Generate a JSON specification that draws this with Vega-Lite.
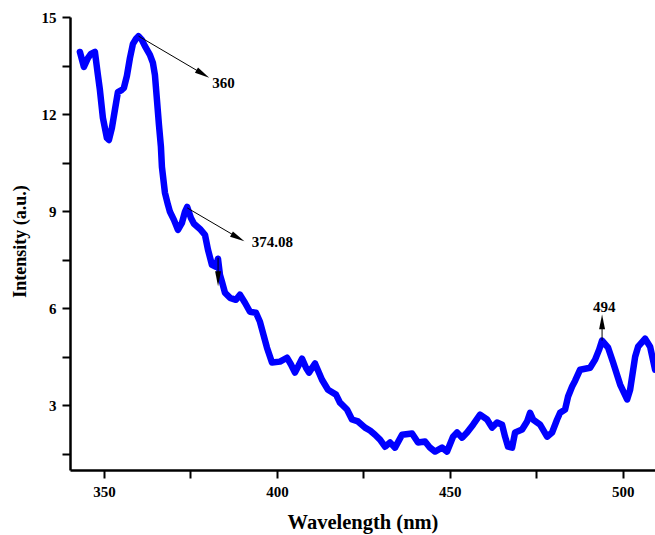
{
  "$schema": "https://vega.github.io/schema/vega-lite/v6.json",
  "autosize": {"type": "none"},
  "padding": {"left": 70, "top": 17, "right": 0, "bottom": 65},
  "width": 585,
  "height": 453,
  "background": "white",
  "config": {"view": {"stroke": null}, "font": "Liberation Serif"},
  "datasets": {
    "spectrum": [
      {"wavelength": 343.06, "intensity": 13.92},
      {"wavelength": 344.22, "intensity": 13.46},
      {"wavelength": 345.37, "intensity": 13.73},
      {"wavelength": 346.24, "intensity": 13.86},
      {"wavelength": 347.40, "intensity": 13.92},
      {"wavelength": 348.26, "intensity": 13.21},
      {"wavelength": 348.84, "intensity": 12.75},
      {"wavelength": 349.71, "intensity": 11.88},
      {"wavelength": 350.87, "intensity": 11.26},
      {"wavelength": 351.45, "intensity": 11.20},
      {"wavelength": 352.31, "intensity": 11.57},
      {"wavelength": 353.18, "intensity": 12.13},
      {"wavelength": 354.05, "intensity": 12.68},
      {"wavelength": 355.21, "intensity": 12.75},
      {"wavelength": 355.78, "intensity": 12.81},
      {"wavelength": 356.65, "intensity": 13.18},
      {"wavelength": 357.52, "intensity": 13.73},
      {"wavelength": 358.39, "intensity": 14.17},
      {"wavelength": 359.25, "intensity": 14.32},
      {"wavelength": 360.00, "intensity": 14.41},
      {"wavelength": 360.99, "intensity": 14.29},
      {"wavelength": 361.86, "intensity": 14.10},
      {"wavelength": 363.30, "intensity": 13.83},
      {"wavelength": 364.17, "intensity": 13.58},
      {"wavelength": 364.75, "intensity": 13.21},
      {"wavelength": 365.33, "intensity": 12.44},
      {"wavelength": 365.91, "intensity": 11.67},
      {"wavelength": 366.48, "intensity": 10.99},
      {"wavelength": 366.77, "intensity": 10.37},
      {"wavelength": 367.64, "intensity": 9.57},
      {"wavelength": 368.51, "intensity": 9.20},
      {"wavelength": 369.09, "intensity": 8.98},
      {"wavelength": 370.24, "intensity": 8.73},
      {"wavelength": 371.40, "intensity": 8.42},
      {"wavelength": 372.56, "intensity": 8.64},
      {"wavelength": 373.42, "intensity": 8.98},
      {"wavelength": 374.08, "intensity": 9.13},
      {"wavelength": 375.16, "intensity": 8.79},
      {"wavelength": 376.03, "intensity": 8.61},
      {"wavelength": 377.76, "intensity": 8.45},
      {"wavelength": 379.21, "intensity": 8.27},
      {"wavelength": 380.08, "intensity": 7.81},
      {"wavelength": 381.23, "intensity": 7.34},
      {"wavelength": 382.39, "intensity": 7.28},
      {"wavelength": 382.97, "intensity": 7.53},
      {"wavelength": 383.55, "intensity": 7.03},
      {"wavelength": 384.12, "intensity": 6.82},
      {"wavelength": 384.99, "intensity": 6.48},
      {"wavelength": 386.44, "intensity": 6.32},
      {"wavelength": 388.17, "intensity": 6.26},
      {"wavelength": 389.33, "intensity": 6.42},
      {"wavelength": 390.77, "intensity": 6.17},
      {"wavelength": 392.22, "intensity": 5.89},
      {"wavelength": 393.96, "intensity": 5.86},
      {"wavelength": 395.11, "intensity": 5.58},
      {"wavelength": 396.27, "intensity": 5.12},
      {"wavelength": 397.14, "intensity": 4.78},
      {"wavelength": 398.58, "intensity": 4.32},
      {"wavelength": 400.90, "intensity": 4.35},
      {"wavelength": 402.92, "intensity": 4.47},
      {"wavelength": 404.08, "intensity": 4.26},
      {"wavelength": 405.23, "intensity": 4.01},
      {"wavelength": 407.26, "intensity": 4.44},
      {"wavelength": 408.42, "intensity": 4.16},
      {"wavelength": 409.28, "intensity": 4.01},
      {"wavelength": 411.02, "intensity": 4.29},
      {"wavelength": 413.04, "intensity": 3.79},
      {"wavelength": 414.78, "intensity": 3.48},
      {"wavelength": 417.09, "intensity": 3.33},
      {"wavelength": 418.25, "intensity": 3.08},
      {"wavelength": 420.27, "intensity": 2.87},
      {"wavelength": 421.72, "intensity": 2.56},
      {"wavelength": 423.45, "intensity": 2.50},
      {"wavelength": 425.48, "intensity": 2.31},
      {"wavelength": 426.92, "intensity": 2.22},
      {"wavelength": 428.37, "intensity": 2.09},
      {"wavelength": 429.81, "intensity": 1.94},
      {"wavelength": 431.26, "intensity": 1.72},
      {"wavelength": 432.71, "intensity": 1.85},
      {"wavelength": 434.15, "intensity": 1.69},
      {"wavelength": 436.18, "intensity": 2.09},
      {"wavelength": 439.07, "intensity": 2.13},
      {"wavelength": 440.80, "intensity": 1.85},
      {"wavelength": 442.83, "intensity": 1.88},
      {"wavelength": 444.27, "intensity": 1.69},
      {"wavelength": 445.72, "intensity": 1.57},
      {"wavelength": 447.74, "intensity": 1.69},
      {"wavelength": 449.19, "intensity": 1.57},
      {"wavelength": 450.92, "intensity": 2.03},
      {"wavelength": 452.08, "intensity": 2.16},
      {"wavelength": 453.53, "intensity": 2.00},
      {"wavelength": 454.97, "intensity": 2.16},
      {"wavelength": 456.71, "intensity": 2.40},
      {"wavelength": 458.73, "intensity": 2.71},
      {"wavelength": 460.76, "intensity": 2.56},
      {"wavelength": 462.20, "intensity": 2.31},
      {"wavelength": 463.65, "intensity": 2.47},
      {"wavelength": 465.10, "intensity": 2.40},
      {"wavelength": 465.96, "intensity": 2.03},
      {"wavelength": 466.83, "intensity": 1.72},
      {"wavelength": 467.99, "intensity": 1.69},
      {"wavelength": 468.86, "intensity": 2.16},
      {"wavelength": 470.88, "intensity": 2.25},
      {"wavelength": 472.32, "intensity": 2.50},
      {"wavelength": 473.19, "intensity": 2.77},
      {"wavelength": 474.06, "intensity": 2.56},
      {"wavelength": 476.08, "intensity": 2.40},
      {"wavelength": 478.11, "intensity": 2.03},
      {"wavelength": 479.55, "intensity": 2.16},
      {"wavelength": 481.00, "intensity": 2.56},
      {"wavelength": 481.87, "intensity": 2.77},
      {"wavelength": 483.31, "intensity": 2.87},
      {"wavelength": 484.18, "intensity": 3.27},
      {"wavelength": 485.34, "intensity": 3.58},
      {"wavelength": 486.21, "intensity": 3.76},
      {"wavelength": 487.65, "intensity": 4.10},
      {"wavelength": 490.54, "intensity": 4.16},
      {"wavelength": 491.99, "intensity": 4.41},
      {"wavelength": 493.15, "intensity": 4.72},
      {"wavelength": 494.00, "intensity": 5.00},
      {"wavelength": 495.75, "intensity": 4.78},
      {"wavelength": 497.19, "intensity": 4.32},
      {"wavelength": 499.22, "intensity": 3.64},
      {"wavelength": 501.24, "intensity": 3.18},
      {"wavelength": 502.11, "intensity": 3.48},
      {"wavelength": 503.56, "intensity": 4.50},
      {"wavelength": 504.42, "intensity": 4.81},
      {"wavelength": 506.45, "intensity": 5.06},
      {"wavelength": 507.89, "intensity": 4.81},
      {"wavelength": 509.34, "intensity": 4.10}
    ],
    "notes": [
      {"note": "360", "x": 360.0, "y": 14.41, "hx": 378.6, "hy": 13.24, "tx": 384.6, "ty": 12.96},
      {"note": "374.08", "x": 374.08, "y": 9.1, "hx": 388.75, "hy": 8.18, "tx": 398.7, "ty": 8.05},
      {"note": "494", "x": 494.0, "y": 5.0, "hx": 494.0, "hy": 5.58, "tx": 494.6, "ty": 6.05},
      {"note": "", "x": 383.0, "y": 7.56, "hx": 383.0, "hy": 6.91, "tx": null, "ty": null}
    ]
  },
  "layer": [
    {
      "data": {"name": "spectrum"},
      "mark": {"type": "line", "color": "#0000ff", "strokeWidth": 6.5, "strokeJoin": "round", "strokeCap": "round", "clip": true},
      "encoding": {
        "x": {
          "field": "wavelength",
          "type": "quantitative",
          "scale": {"domain": [340.2, 509.3], "nice": false, "zero": false},
          "axis": {
            "title": "Wavelength (nm)",
            "values": [350, 375, 400, 425, 450, 475, 500],
            "labelExpr": "datum.value % 50 === 0 ? datum.label : ''",
            "grid": false,
            "domainColor": "black",
            "domainWidth": 2.5,
            "tickColor": "black",
            "tickWidth": 2,
            "tickSize": 8,
            "labelFont": "Liberation Serif",
            "labelFontWeight": "bold",
            "labelFontSize": 15,
            "labelColor": "black",
            "labelPadding": 6,
            "titleFont": "Liberation Serif",
            "titleFontWeight": "bold",
            "titleFontSize": 20.5,
            "titleColor": "black",
            "titleX": 292.5,
            "titleY": 58,
            "titleBaseline": "alphabetic",
            "encode": {"ticks": {"update": {"y2": {"signal": "datum.value % 50 === 0 ? 8 : 4"}}}}
          }
        },
        "y": {
          "field": "intensity",
          "type": "quantitative",
          "scale": {"domain": [1, 15], "nice": false, "zero": false},
          "axis": {
            "title": "Intensity (a.u.)",
            "values": [1.5, 3, 4.5, 6, 7.5, 9, 10.5, 12, 13.5, 15],
            "labelExpr": "datum.value % 3 === 0 ? datum.label : ''",
            "grid": false,
            "domainColor": "black",
            "domainWidth": 2.5,
            "tickColor": "black",
            "tickWidth": 2,
            "tickSize": 8,
            "labelFont": "Liberation Serif",
            "labelFontWeight": "bold",
            "labelFontSize": 15,
            "labelColor": "black",
            "labelPadding": 6,
            "titleFont": "Liberation Serif",
            "titleFontWeight": "bold",
            "titleFontSize": 18,
            "titleColor": "black",
            "titleAngle": -90,
            "titleX": -45,
            "titleY": 224,
            "titleBaseline": "alphabetic",
            "titleAlign": "center",
            "encode": {"ticks": {"update": {"x2": {"signal": "datum.value % 3 === 0 ? -8 : -4"}}}}
          }
        }
      }
    },
    {
      "mark": {"type": "rule", "color": "black", "strokeWidth": 2.5},
      "encoding": {"y": {"datum": 15}}
    },
    {
      "data": {"name": "notes"},
      "mark": {"type": "rule", "color": "black", "strokeWidth": 1},
      "encoding": {
        "x": {"field": "x", "type": "quantitative"},
        "y": {"field": "y", "type": "quantitative"},
        "x2": {"field": "hx"},
        "y2": {"field": "hy"}
      }
    },
    {
      "data": {"name": "notes"},
      "transform": [{"filter": "datum.note === '360'"}],
      "mark": {"type": "point", "shape": "M0,-1L0.4,1L-0.4,1Z", "filled": true, "color": "black", "opacity": 1, "size": 220, "angle": 121},
      "encoding": {"x": {"field": "hx", "type": "quantitative"}, "y": {"field": "hy", "type": "quantitative"}}
    },
    {
      "data": {"name": "notes"},
      "transform": [{"filter": "datum.note === '374.08'"}],
      "mark": {"type": "point", "shape": "M0,-1L0.4,1L-0.4,1Z", "filled": true, "color": "black", "opacity": 1, "size": 220, "angle": 119},
      "encoding": {"x": {"field": "hx", "type": "quantitative"}, "y": {"field": "hy", "type": "quantitative"}}
    },
    {
      "data": {"name": "notes"},
      "transform": [{"filter": "datum.note === '494'"}],
      "mark": {"type": "point", "shape": "M0,-1L0.4,1L-0.4,1Z", "filled": true, "color": "black", "opacity": 1, "size": 220, "angle": 0},
      "encoding": {"x": {"field": "hx", "type": "quantitative"}, "y": {"field": "hy", "type": "quantitative"}}
    },
    {
      "data": {"name": "notes"},
      "transform": [{"filter": "datum.note === ''"}],
      "mark": {"type": "point", "shape": "M0,-1L0.4,1L-0.4,1Z", "filled": true, "color": "black", "opacity": 1, "size": 220, "angle": 180},
      "encoding": {"x": {"field": "hx", "type": "quantitative"}, "y": {"field": "hy", "type": "quantitative"}}
    },
    {
      "data": {"name": "notes"},
      "transform": [{"filter": "datum.note !== ''"}],
      "mark": {"type": "text", "font": "Liberation Serif", "fontWeight": "bold", "fontSize": 15, "color": "black", "align": "center", "baseline": "middle"},
      "encoding": {
        "x": {"field": "tx", "type": "quantitative"},
        "y": {"field": "ty", "type": "quantitative"},
        "text": {"field": "note"}
      }
    }
  ]
}
